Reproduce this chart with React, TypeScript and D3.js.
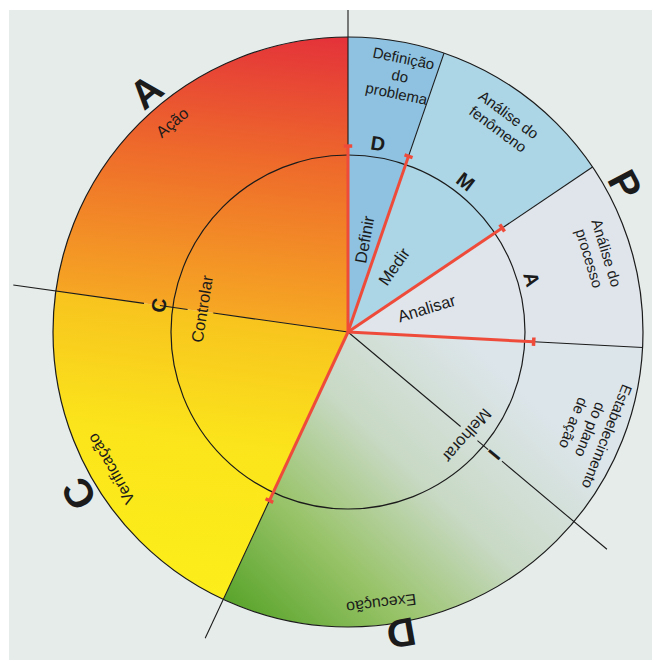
import * as d3 from 'd3'

// PDCA + DMAIC wheel, angles in degrees clockwise from 12 o'clock
const pdcaLetters = ['P', 'D', 'C', 'A']
const pdcaEnds = [130, 205, 278, 360]
const pdcaLabelAngles = [62, 170, 239, 320]

const outerSteps = [
  ['Definição', 'do', 'problema'],
  ['Análise do', 'fenômeno'],
  ['Análise do', 'processo'],
  ['Estabelecimento', 'do plano', 'de ação'],
  ['Execução'],
  ['Verificação'],
  ['Ação'],
]
const outerEnds = [19, 56, 93, 130, 205, 278, 360]
const outerLabelAngles = [11.5, 36.5, 73, 112, 173, 240, 320]

const innerSteps = ['Definir', 'Medir', 'Analisar', 'Melhorar', 'Controlar']
const innerEnds = [19, 56, 93, 205, 360]
const innerLabelAngles = [10, 35, 73, 131, 279]

const dmaicLetters = ['D', 'M', 'A', 'I', 'C']
const dmaicAngles = [9, 38, 74, 130, 278]

const W = 652
const H = 663
const CX = 348
const CY = 332
const R = 295
const RI = 177
const R_RED = 186
const R_OUT = 338
const FONT = "'Liberation Sans', Arial, Helvetica, sans-serif"
const INK = '#1b1b1b'
const RED = '#ef4b3b'
const PAPER = '#e6ecea'

const rad = (d: number) => (d * Math.PI) / 180
const polar = (a: number, r: number): [number, number] => [CX + r * Math.sin(rad(a)), CY - r * Math.cos(rad(a))]

// fill for each wedge (start, end)
const wedges = [
  { s: 0, e: 19, fill: '#8ec2e0' },
  { s: 19, e: 56, fill: '#acd5e5' },
  { s: 56, e: 93, fill: '#dfe5eb' },
  { s: 93, e: 205, fill: 'url(#gG)' },
  { s: 205, e: 278, fill: 'url(#gC)' },
  { s: 278, e: 360, fill: 'url(#gA)' },
]

// gaps in the black lines where labels sit
const lineGaps: Record<number, [number, number][]> = {
  130: [[147, 169], [183, 201]],
  278: [[136, 162], [190, 206]],
}

function segments(from: number, to: number, gaps: [number, number][] = []) {
  const out: [number, number][] = []
  let cur = from
  gaps.forEach(([a, b]) => {
    if (a > cur) out.push([cur, a])
    cur = b
  })
  if (cur < to) out.push([cur, to])
  return out
}

export default function App() {
  const arc = d3.arc<{ s: number; e: number }>()
    .innerRadius(0)
    .outerRadius(R)
    .startAngle((d) => rad(d.s))
    .endAngle((d) => rad(d.e))

  const innerStarts = [0, ...innerEnds.slice(0, -1)]
  const pdcaStarts = [0, ...pdcaEnds.slice(0, -1)]
  const outerStarts = [0, ...outerEnds.slice(0, -1)]

  // black lines: PDCA boundaries reach outside; sub-step boundaries stop at the rim
  const blackLines: { a: number; from: number; to: number }[] = []
  outerStarts.forEach((a) => {
    const isPdca = pdcaStarts.includes(a)
    const isInner = innerStarts.includes(a)
    const from = isInner ? R_RED : 0
    const to = isPdca ? R_OUT : R
    segments(from, to, lineGaps[a]).forEach(([f, t]) => blackLines.push({ a, from: f, to: t }))
  })

  return (
    <svg width={W} height={H} style={{ position: 'fixed', left: 0, top: 0, display: 'block' }}>
      <defs>
        {/* gradient coords are relative to the wheel centre */}
        <linearGradient id="gA" gradientUnits="userSpaceOnUse" x1={-18} y1={-294} x2={-48} y2={-10}>
          <stop offset="0" stopColor="#e4333a" />
          <stop offset="0.45" stopColor="#ee6a2b" />
          <stop offset="1" stopColor="#f6a823" />
        </linearGradient>
        <linearGradient id="gC" gradientUnits="userSpaceOnUse" x1={-48} y1={-32} x2={-88} y2={268}>
          <stop offset="0" stopColor="#f7bd1f" />
          <stop offset="0.5" stopColor="#fbe41b" />
          <stop offset="1" stopColor="#fcee1a" />
        </linearGradient>
        <linearGradient id="gG" gradientUnits="userSpaceOnUse" x1={152} y1={38} x2={-93} y2={293}>
          <stop offset="0" stopColor="#dce5ea" />
          <stop offset="0.38" stopColor="#c8d9c4" />
          <stop offset="0.7" stopColor="#98c368" />
          <stop offset="1" stopColor="#5ba52d" />
        </linearGradient>
        <clipPath id="paper">
          <rect x={9} y={10} width={W - 9} height={650} />
        </clipPath>
      </defs>

      <rect x={0} y={0} width={W} height={H} fill="#ffffff" />
      <rect x={9} y={10} width={W - 9} height={650} fill={PAPER} />

      <g transform={`translate(${CX},${CY})`}>
        {wedges.map((w, i) => (
          <path key={i} d={arc(w) ?? ''} fill={w.fill} />
        ))}
      </g>

      <circle cx={CX} cy={CY} r={R} fill="none" stroke={INK} strokeWidth={1.2} />
      <circle cx={CX} cy={CY} r={RI} fill="none" stroke={INK} strokeWidth={1.2} />

      <g clipPath="url(#paper)" stroke={INK} strokeWidth={1.1}>
        {blackLines.map((l, i) => {
          const [x1, y1] = polar(l.a, l.from)
          const [x2, y2] = polar(l.a, l.to)
          return <line key={i} x1={x1} y1={y1} x2={x2} y2={y2} />
        })}
      </g>

      <g stroke={RED} strokeWidth={3} strokeLinecap="butt">
        {innerStarts.map((a, i) => {
          const [x2, y2] = polar(a, R_RED)
          const [tx1, ty1] = polar(a - 1.3, R_RED)
          const [tx2, ty2] = polar(a + 1.3, R_RED)
          return (
            <g key={i}>
              <line x1={CX} y1={CY} x2={x2} y2={y2} />
              <line x1={tx1} y1={ty1} x2={tx2} y2={ty2} strokeWidth={3.5} />
            </g>
          )
        })}
      </g>

      <g fontFamily={FONT} fill={INK} textAnchor="middle" dominantBaseline="central">
        {pdcaLetters.map((t, i) => {
          const r = t === 'D' ? 306 : 314
          const [x, y] = polar(pdcaLabelAngles[i], r)
          return (
            <text key={t + i} transform={`translate(${x},${y}) rotate(${pdcaLabelAngles[i]})`} fontSize={40} fontWeight={700}>
              {t}
            </text>
          )
        })}

        {outerSteps.map((lines, i) => {
          const a = outerLabelAngles[i]
          const r = lines.length > 1 ? 262 : 274
          const [x, y] = polar(a, r)
          return (
            <text key={i} transform={`translate(${x},${y}) rotate(${a})`} fontSize={i >= 4 ? 16 : 15}>
              {lines.map((ln, j) => (
                <tspan key={j} x={0} y={(j - (lines.length - 1) / 2) * 18}>
                  {ln}
                </tspan>
              ))}
            </text>
          )
        })}

        {innerSteps.map((t, i) => {
          const a = innerLabelAngles[i]
          const tangential = i >= 3
          const r = [94, 80, 82, 158, 148][i]
          const [x, y] = polar(a, r)
          const rot = tangential ? a : a - 90
          return (
            <text key={t} transform={`translate(${x},${y}) rotate(${rot})`} fontSize={16.5}>
              {t}
            </text>
          )
        })}

        {dmaicLetters.map((t, i) => {
          const a = dmaicAngles[i]
          const [x, y] = polar(a, 191)
          return (
            <text key={t + i} transform={`translate(${x},${y}) rotate(${a})`} fontSize={20} fontWeight={700}>
              {t}
            </text>
          )
        })}
      </g>
    </svg>
  )
}
